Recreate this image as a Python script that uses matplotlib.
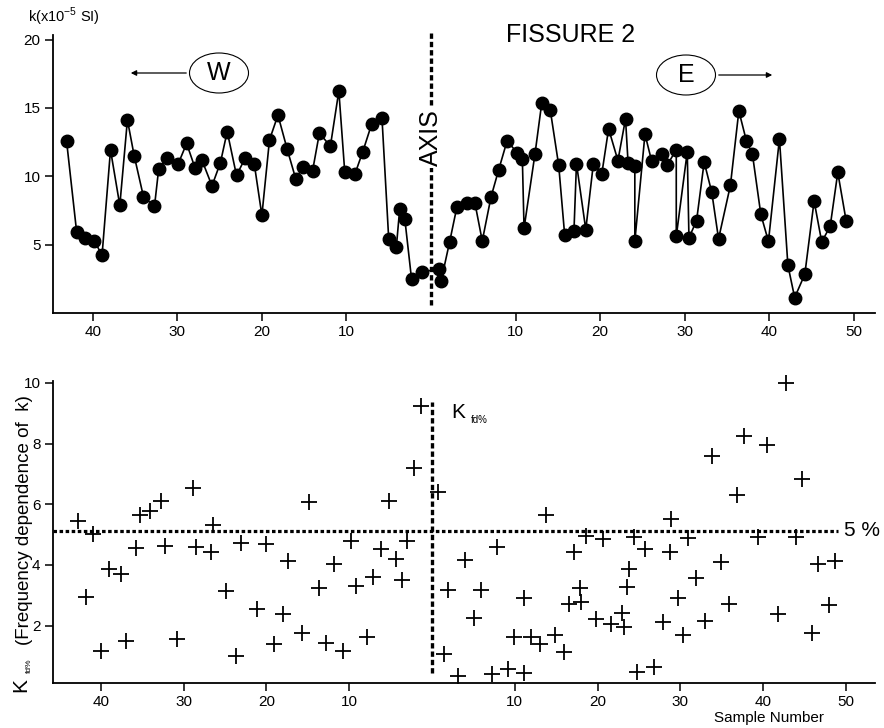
import matplotlib
matplotlib.use("Agg")
import matplotlib.pyplot as plt
from matplotlib.patches import Ellipse

plt.rcParams['font.family'] = ['Liberation Sans', 'DejaVu Sans']
plt.rcParams['mathtext.fontset'] = 'custom'
plt.rcParams['mathtext.rm'] = 'Liberation Sans'

# top panel: susceptibility k along the profile (west side distances, then east side)
west_pos = [43.1, 41.9, 40.9, 39.8, 38.9, 37.9, 36.8, 35.9, 35.1, 34.0, 32.7, 32.2,
            31.2, 29.9, 28.9, 27.9, 27.1, 25.9, 24.9, 24.1, 23.0, 22.0, 20.9, 20.0,
            19.1, 18.1, 17.0, 16.0, 15.1, 14.0, 13.2, 11.9, 10.9, 10.2, 9.0, 8.1,
            7.0, 5.8, 5.0, 4.1, 3.7, 3.1, 2.3, 1.1]
west_k = [12.6, 5.9, 5.5, 5.27, 4.22, 11.93, 7.87, 14.12, 11.5, 8.5, 7.8, 10.55,
          11.35, 10.9, 12.4, 10.6, 11.2, 9.3, 11.0, 13.27, 10.06, 11.3, 10.9, 7.14,
          12.66, 14.47, 11.96, 9.82, 10.7, 10.42, 13.15, 12.2, 16.24, 10.3, 10.16, 11.74,
          13.85, 14.27, 5.39, 4.83, 7.63, 6.88, 2.47, 3.0]
east_pos = [1.0, 1.2, 2.2, 3.05, 4.24, 5.2, 6.06, 7.1, 8.0, 9.0, 10.2, 10.8, 11.0,
            12.3, 13.1, 14.1, 15.1, 15.8, 16.9, 17.2, 18.3, 19.2, 20.2, 21.0, 22.1,
            23.0, 23.3, 24.1, 24.1, 25.3, 26.1, 27.3, 27.9, 29.0, 29.0, 30.3, 30.5,
            31.4, 32.3, 33.2, 34.0, 35.4, 36.4, 37.3, 38.0, 39.0, 39.9, 41.2, 42.2,
            43.0, 44.2, 45.3, 46.2, 47.2, 48.1, 49.1]
east_k = [3.23, 2.37, 5.2, 7.72, 8.01, 8.01, 5.27, 8.5, 10.47, 12.6, 11.7, 11.28, 6.19,
          11.66, 15.39, 14.85, 10.79, 5.73, 5.97, 10.93, 6.1, 10.93, 10.2, 13.47, 11.15,
          14.2, 11.0, 10.72, 5.24, 13.08, 11.08, 11.6, 10.8, 11.93, 5.6, 11.79, 5.5,
          6.75, 11.04, 8.82, 5.42, 9.33, 14.78, 12.57, 11.64, 7.21, 5.24, 12.74, 3.49,
          1.13, 2.83, 8.19, 5.2, 6.34, 10.28, 6.7]

# bottom panel: frequency dependence Kfd%
kfd_west_pos = [42.7, 40.9, 41.8, 40.0, 39.0, 37.5, 36.9, 35.8, 35.3, 34.1, 32.7, 32.2,
                30.8, 28.9, 28.5, 26.7, 26.4, 24.9, 23.1, 23.7, 20.0, 21.1, 19.1, 17.4,
                18.0, 15.7, 14.9, 13.7, 12.8, 11.8, 10.8, 9.8, 9.2, 7.9, 7.1, 6.2,
                5.2, 4.3, 3.6, 3.0, 2.2, 1.3]
kfd_west = [5.46, 5.02, 2.95, 1.17, 3.88, 3.70, 1.51, 4.55, 5.63, 5.79, 6.1, 4.62,
            1.55, 6.52, 4.6, 4.44, 5.32, 3.14, 4.73, 1.01, 4.69, 2.55, 1.4, 4.14,
            2.37, 1.77, 6.06, 3.23, 1.44, 4.03, 1.17, 4.79, 3.32, 1.62, 3.61, 4.52,
            6.12, 4.2, 3.5, 4.8, 7.2, 9.23]
kfd_east_pos = [0.76, 1.45, 1.9, 3.2, 4.0, 5.07, 5.88, 7.2, 7.9, 9.14, 9.9, 11.1, 11.1,
                11.9, 13.0, 13.8, 14.9, 16.0, 16.6, 17.1, 17.9, 18.0, 18.6, 19.8, 20.6,
                21.6, 22.9, 23.2, 23.6, 23.8, 24.4, 24.7, 25.7, 26.8, 28.9, 28.7, 30.9,
                29.7, 27.9, 30.3, 31.9, 33.0, 33.8, 34.9, 35.9, 36.8, 37.7, 39.4, 40.4,
                41.8, 42.8, 44.0, 44.7, 45.9, 46.6, 48.7, 47.9]
kfd_east = [6.41, 1.07, 3.18, 0.34, 4.16, 2.24, 3.18, 0.41, 4.6, 0.57, 1.64, 0.43, 2.92,
            1.64, 1.39, 5.64, 1.69, 1.14, 2.7, 4.44, 3.25, 2.77, 4.96, 2.21, 4.85,
            2.06, 2.41, 1.95, 3.28, 3.86, 4.91, 0.47, 4.52, 0.65, 5.51, 4.44, 4.88,
            2.92, 2.11, 1.69, 3.58, 2.16, 7.6, 4.09, 2.7, 6.3, 8.25, 4.93, 7.95,
            2.39, 9.98, 4.93, 6.82, 1.75, 4.02, 4.13, 2.68]

threshold = 5.13
tick_pos = [-40, -30, -20, -10, 10, 20, 30, 40, 50]
tick_lab = ['40', '30', '20', '10', '10', '20', '30', '40', '50']

fig = plt.figure(figsize=(8.84, 7.28), dpi=100)
W, H = 884, 728

def style(ax):
    for s in ['top', 'right']:
        ax.spines[s].set_visible(False)
    for s in ['left', 'bottom']:
        ax.spines[s].set_linewidth(1.3)
    ax.tick_params(direction='out', length=6, width=1.1, labelsize=11, pad=3)
    ax.set_xticks(tick_pos)
    ax.set_xticklabels(tick_lab)

# ---- top panel
ax1 = fig.add_axes([53 / W, 1 - 313 / H, 822 / W, 278 / H])
xs = [-p for p in west_pos] + east_pos
ks = west_k + east_k
ax1.plot(xs, ks, '-', color='black', lw=1.2, marker='o', ms=9, mfc='black', mec='black')
ax1.set_xlim(-44.7, 52.5)
ax1.set_ylim(0, 20.33)
ax1.set_yticks([5, 10, 15, 20])
style(ax1)
ax1.plot([0, 0], [0.57, 20.47], color='black', lw=2.4, ls=(0, (1.6, 0.9)), clip_on=False)
ax1.text(0, 12.8, 'AXIS', rotation=90, ha='center', va='center', fontsize=18,
         bbox=dict(facecolor='white', edgecolor='none', pad=1))
fig.text(571 / W, 1 - 35 / H, 'FISSURE 2', ha='center', va='center', fontsize=18)
fig.text(28 / W, 1 - 17 / H, 'k(x10$^{-5}$ SI)', ha='left', va='center', fontsize=10.5)

# W / E markers
for cx, cy, lab in [(219, 73, 'W'), (686, 75, 'E')]:
    fig.patches.append(Ellipse((cx / W, 1 - cy / H), 59 / W, 40 / H, transform=fig.transFigure,
                               facecolor='white', edgecolor='black', lw=0.8))
    fig.text(cx / W, 1 - cy / H, lab, ha='center', va='center', fontsize=18)
fig.add_artist(matplotlib.patches.FancyArrowPatch((189 / W, 1 - 73 / H), (128 / W, 1 - 73 / H),
               transform=fig.transFigure, arrowstyle='-|>', mutation_scale=8, lw=0.9, color='black'))
fig.add_artist(matplotlib.patches.FancyArrowPatch((716 / W, 1 - 75 / H), (775 / W, 1 - 75 / H),
               transform=fig.transFigure, arrowstyle='-|>', mutation_scale=8, lw=0.9, color='black'))

# ---- bottom panel
ax2 = fig.add_axes([53 / W, 1 - 682.7 / H, 822 / W, 302 / H])
bx = [-p for p in kfd_west_pos] + kfd_east_pos
by = kfd_west + kfd_east
ax2.plot(bx, by, ls='none', marker='+', ms=11, mew=1.3, color='black', clip_on=False)
ax2.set_xlim(-45.77, 53.5)
ax2.set_ylim(0.12, 10.07)
ax2.set_yticks([2, 4, 6, 8, 10])
style(ax2)
ax2.plot([0, 0], [0.44, 9.37], color='black', lw=2.4, ls=(0, (1.6, 0.9)))
ax2.plot([-45.77, 49.0], [threshold, threshold], color='black', lw=2.3, ls=(0, (1.1, 0.8)),
         clip_on=False)
ax2.text(49.8, threshold, '5 %', ha='left', va='center', fontsize=15)

# y label built from pieces (large K, small fd% subscript)
fig.text(21 / W, 1 - 685 / H, 'K', rotation=90, ha='center', va='center', fontsize=15)
fig.text(29 / W, 1 - 666 / H, 'fd%', rotation=90, ha='center', va='center', fontsize=6)
fig.text(25 / W, 1 - 520 / H, '(Frequency dependence of  k)', rotation=90,
         ha='center', va='center', fontsize=13.5)

fig.text(458 / W, 1 - 412 / H, 'K', ha='center', va='center', fontsize=15)
fig.text(471 / W, 1 - 420 / H, 'fd%', ha='left', va='center', fontsize=7)
fig.text(769 / W, 1 - 718 / H, 'Sample Number', ha='center', va='center', fontsize=11)

fig.savefig('out.png', dpi=100)
